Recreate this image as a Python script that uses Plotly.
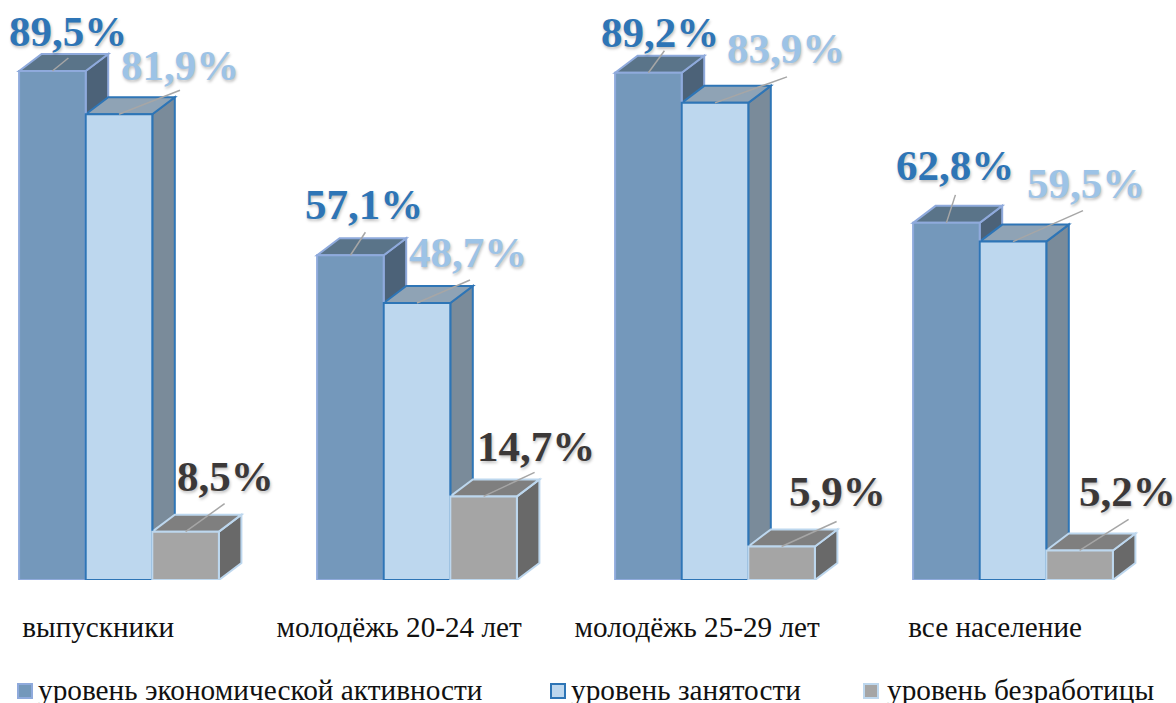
import plotly.graph_objects as go

categories = ["выпускники", "молодёжь 20-24 лет", "молодёжь 25-29 лет", "все население"]
series_names = ["уровень экономической активности", "уровень занятости", "уровень безработицы"]
activity = [89.5, 57.1, 89.2, 62.8]
employment = [81.9, 48.7, 83.9, 59.5]
unemployment = [8.5, 14.7, 5.9, 5.2]
all_values = [activity, employment, unemployment]

front_colors = ["#7498BB", "#BDD7EE", "#A5A5A5"]
line_colors = ["#8FAADC", "#2E75B6", "#BDD7EE"]
top_colors = ["#5A7489", "#8FA3B5", "#7F7F7F"]
side_colors = ["#4C6278", "#7A8B9A", "#696969"]
label_colors = ["#2E75B6", "#9DC3E6", "#3B3838"]

# pixel offsets from the top centre of each bar: label, then leader line end
label_shift = [
    [(16, 40), (61, 49), (40, 55)],
    [(14, 51), (51, 51), (52, 50)],
    [(12, 40), (71, 54), (56, 55)],
    [(9, 57), (73, 58), (48, 59)],
]
leader_end = [
    [(16, 13), (61, 24), (39, 28)],
    [(15, 23), (53, 23), (51, 24)],
    [(16, 22), (72, 26), (55, 25)],
    [(9, 28), (70, 31), (49, 31)],
]
tick_pos = [-0.07, 0.94, 1.94, 2.94]
legend_swatch_px = [17, 550, 863]
legend_text_px = [37, 570, 886]

WIDTH, HEIGHT = 1176, 703
BOTTOM = 123
PLOT_H = HEIGHT - BOTTOM
GROUP_PX = 298
FIRST_CENTRE_PX = 119
PX_PER_PCT = 5.687
BAR_W = 66.6 / GROUP_PX
DX = 22.5 / GROUP_PX
DY = 17 / PX_PER_PCT

x_pos = list(range(len(categories)))
fig = go.Figure()
shapes = []
annotations = []

for s, vals in enumerate(all_values):
    fig.add_trace(go.Bar(
        name=series_names[s], x=x_pos, y=vals,
        marker=dict(color=front_colors[s], line=dict(color=line_colors[s], width=2)),
    ))

# fake 3d depth, drawn under the fronts
for i in x_pos:
    for s, vals in enumerate(all_values):
        v = vals[i]
        x0 = i + (s - 1.5) * BAR_W
        x1 = x0 + BAR_W
        shapes.append(dict(
            type="path", layer="below",
            path="M%f,0 L%f,%f L%f,%f L%f,%f Z" % (x1, x1 + DX, DY, x1 + DX, v + DY, x1, v),
            fillcolor=side_colors[s], line=dict(color=line_colors[s], width=2),
        ))
        shapes.append(dict(
            type="path", layer="below",
            path="M%f,%f L%f,%f L%f,%f L%f,%f Z" % (x0, v, x0 + DX, v + DY, x1 + DX, v + DY, x1, v),
            fillcolor=top_colors[s], line=dict(color=line_colors[s], width=2),
        ))
        cx = (x0 + x1) / 2
        ex, ey = leader_end[i][s]
        shapes.append(dict(
            type="line", layer="above", xref="x", yref="y",
            xsizemode="pixel", ysizemode="pixel", xanchor=cx, yanchor=v,
            x0=0, y0=0, x1=ex, y1=ey,
            line=dict(color="#A6A6A6", width=1.5),
        ))
        lx, ly = label_shift[i][s]
        annotations.append(dict(
            x=cx, y=v, xref="x", yref="y", showarrow=False,
            text="<b>%s%%</b>" % str(v).replace(".", ","),
            xanchor="center", yanchor="middle", xshift=lx, yshift=ly,
            font=dict(family="Liberation Serif", size=43, color=label_colors[s],
                      shadow="1px 2px 3px rgba(0,0,0,0.25)"),
        ))

# legend by hand, the native swatch is too small and sits too far from the text
for s, name in enumerate(series_names):
    shapes.append(dict(
        type="rect", xref="paper", yref="paper", layer="above",
        x0=(legend_swatch_px[s] + 1) / WIDTH, x1=(legend_swatch_px[s] + 15) / WIDTH,
        y0=(PLOT_H - 698) / PLOT_H, y1=(PLOT_H - 684) / PLOT_H,
        fillcolor=front_colors[s], line=dict(color=line_colors[s], width=2),
    ))
    annotations.append(dict(
        x=legend_text_px[s] / WIDTH, y=(PLOT_H - 690) / PLOT_H,
        xref="paper", yref="paper", showarrow=False, text=name,
        xanchor="left", yanchor="middle", borderpad=0,
        font=dict(family="Liberation Serif", size=29.3, color="#111111"),
    ))

fig.update_layout(
    width=WIDTH, height=HEIGHT,
    margin=dict(l=0, r=0, t=0, b=BOTTOM, autoexpand=False),
    paper_bgcolor="white", plot_bgcolor="white",
    barmode="group", bargap=1 - 3 * BAR_W, bargroupgap=0,
    shapes=shapes, annotations=annotations,
    showlegend=False,
    font=dict(family="Liberation Serif"),
)
fig.update_xaxes(
    range=[-FIRST_CENTRE_PX / GROUP_PX, (WIDTH - FIRST_CENTRE_PX) / GROUP_PX],
    tickvals=tick_pos, ticktext=categories,
    tickfont=dict(family="Liberation Serif", size=29.2, color="#111111"),
    ticks="outside", ticklen=21, tickcolor="rgba(0,0,0,0)",
    showgrid=False, zeroline=False, showline=False,
)
fig.update_yaxes(range=[0, PLOT_H / PX_PER_PCT], visible=False)

fig.write_html("out.html", config=dict(displayModeBar=False),
               post_script="document.body.style.margin='0';")
